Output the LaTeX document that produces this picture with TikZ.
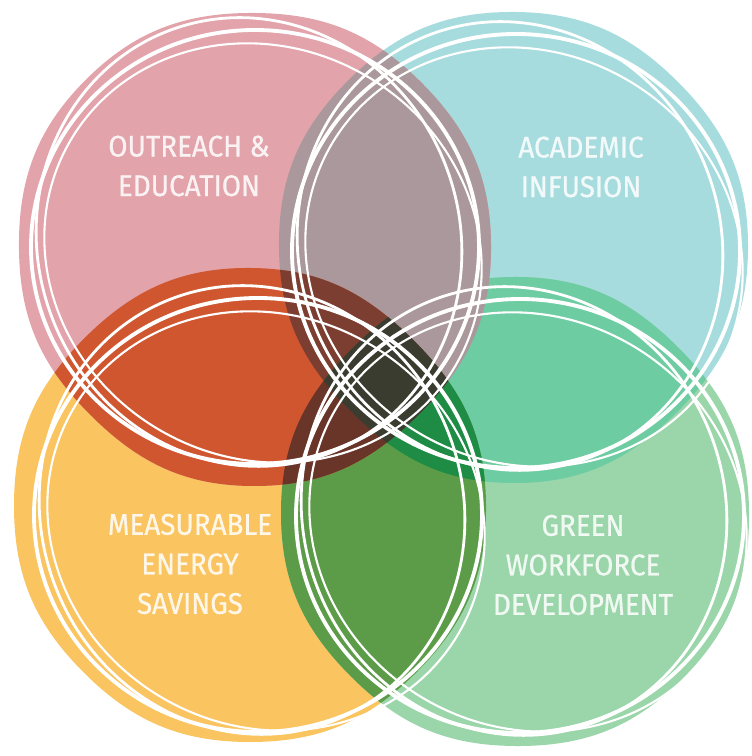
\documentclass[tikz,border=0pt]{standalone}
\usepackage{fontspec}
\setmainfont{Fira Sans}[FakeStretch=0.93, FakeBold=0.6]
\usetikzlibrary{calc}
\definecolor{pinkc}{HTML}{E2A3AA}
\definecolor{cyanc}{HTML}{A7DCDE}
\definecolor{orangec}{HTML}{FAC460}
\definecolor{greenc}{HTML}{9BD6AA}
\definecolor{greyc}{HTML}{AA989C}
\definecolor{redc}{HTML}{D05630}
\definecolor{mintc}{HTML}{6ECCA2}
\definecolor{dkgreenc}{HTML}{5C9C48}
\definecolor{brownc}{HTML}{7C3E30}
\definecolor{brgreenc}{HTML}{1E8C44}
\definecolor{darkc}{HTML}{3A3C30}
% wobbly blob: centre, then radii at 0,45,...,315 degrees
\newcommand\blobpath[9]{plot[smooth cycle, tension=0.75] coordinates {($(#1)+(0:#2)$) ($(#1)+(45:#3)$)
    ($(#1)+(90:#4)$) ($(#1)+(135:#5)$) ($(#1)+(180:#6)$) ($(#1)+(225:#7)$)
    ($(#1)+(270:#8)$) ($(#1)+(315:#9)$)}}
\begin{document}
\begin{tikzpicture}[x=0.02cm, y=0.02cm,
    sketch/.style = {draw=white, line width=#1},
    sketch/.default = 1.4pt,  % width of the hand drawn rings
    areaname/.style = {text=white, text opacity=0.85, align=center,
                font=\fontsize{17}{22.5}\selectfont}
                    ]
        \def\pinkblob{\blobpath{255,506}{236}{236}{237}{240}{236}{233}{236}{232}}
        \def\cyanblob{\blobpath{513,508}{235}{234}{236}{235}{234}{230}{235}{232}}
        \def\orangeblob{\blobpath{250,251}{236}{232}{237}{235}{236}{236}{237}{236}}
        \def\greenblob{\blobpath{515,245}{234}{231}{234}{230}{234}{233}{235}{237}}
        \useasboundingbox[fill=white] (0,0) rectangle (751,756);
        % the four blobs
        \fill[cyanc] \cyanblob;
        \fill[orangec] \orangeblob;
        \fill[greenc] \greenblob;
        \fill[pinkc] \pinkblob;
        % overlaps of two
        \begin{scope}
            \clip \greenblob;
            \fill[mintc] \cyanblob;
            \fill[dkgreenc] \orangeblob;
        \end{scope}
        \begin{scope}
            \clip \pinkblob;
            \fill[greyc] \cyanblob;
            \fill[redc] \orangeblob;
        \end{scope}
        % overlaps of three
        \begin{scope}
            \clip \cyanblob;
            \clip \orangeblob;
            \fill[brownc] \pinkblob;
            \fill[brgreenc] \greenblob;
        \end{scope}
        \begin{scope}
            \clip \pinkblob;
            \clip \orangeblob;
            \fill[brownc!85!black] \greenblob;
        \end{scope}
        % all four
        \begin{scope}
            \clip \pinkblob;
            \clip \greenblob;
            \clip \cyanblob;
            \fill[darkc] \orangeblob;
        \end{scope}
        % white rings
        \foreach \cx/\cy in {255/509, 516/505, 258/241, 520/240} {
            \draw[sketch=2.2pt, shift={(\cx,\cy)}] (0,0) ellipse [x radius=224, y radius=217];
            \draw[sketch=1.6pt, shift={(\cx-6,\cy+5)}, rotate=20] (0,0) ellipse [x radius=211, y radius=226];
            \draw[sketch=1.2pt, shift={(\cx+8,\cy-6)}, rotate=-30] (0,0) ellipse [x radius=223, y radius=205];
        }
        \node[areaname] (outreach) at (189,590) {OUTREACH \&\\EDUCATION};
        \node[areaname] (academic) at (581,589) {ACADEMIC\\INFUSION};
        \node[areaname] (energy) at (190,192) {MEASURABLE\\ENERGY\\SAVINGS};
        \node[areaname] (workforce) at (583,191) {GREEN\\WORKFORCE\\DEVELOPMENT};
    \end{tikzpicture}
\end{document}
